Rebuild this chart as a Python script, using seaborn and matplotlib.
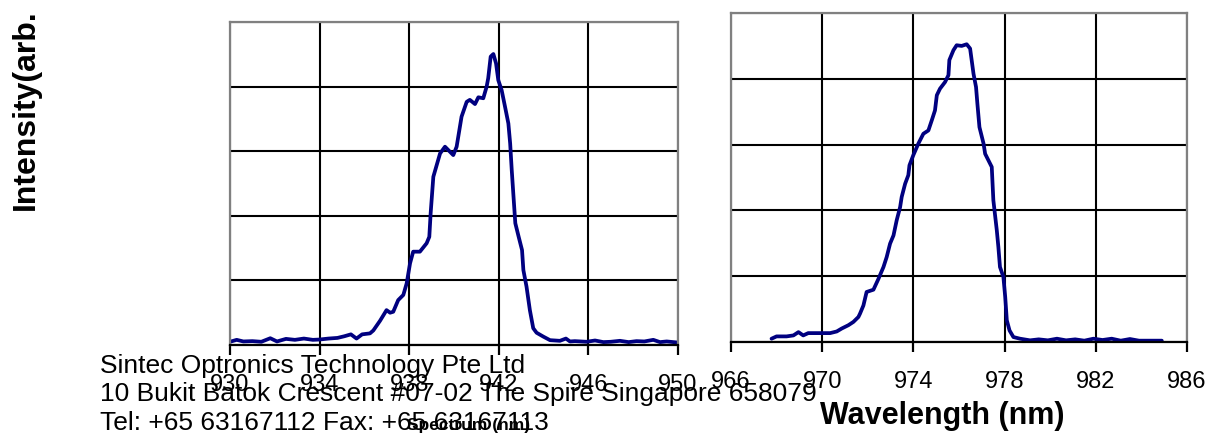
import matplotlib
matplotlib.use("Agg")
import matplotlib.pyplot as plt
import seaborn as sns

# spectrum 1 (left panel)
wl_left = [930.00, 930.3, 930.6, 931.0, 931.4, 931.8, 932.1, 932.5, 932.9, 933.3,
           933.7, 934.0, 934.4, 934.8, 935.1, 935.4, 935.65, 935.9, 936.25, 936.4,
           936.7, 936.99, 937.15, 937.29, 937.51, 937.74, 937.89, 938.04, 938.18, 938.48,
           938.78, 938.90, 938.96, 939.08, 939.38, 939.60, 939.97, 940.12, 940.34, 940.57,
           940.71, 940.94, 941.09, 941.31, 941.46, 941.53, 941.64, 941.76, 941.88, 941.98,
           942.13, 942.28, 942.43, 942.51, 942.58, 942.66, 942.74, 942.89, 943.04, 943.10,
           943.24, 943.39, 943.54, 943.69, 943.99, 944.29, 944.73, 945.0, 945.18, 945.4,
           945.92, 946.3, 946.67, 947.0, 947.41, 947.8, 948.15, 948.5, 948.90, 949.2,
           949.5, 949.94]
int_left = [0.010, 0.016, 0.011, 0.012, 0.010, 0.021, 0.011, 0.019, 0.016, 0.020,
            0.016, 0.017, 0.020, 0.022, 0.027, 0.033, 0.020, 0.033, 0.036, 0.045,
            0.075, 0.108, 0.100, 0.103, 0.139, 0.155, 0.191, 0.253, 0.289, 0.289,
            0.315, 0.335, 0.408, 0.521, 0.593, 0.614, 0.588, 0.614, 0.707, 0.753,
            0.759, 0.746, 0.767, 0.764, 0.800, 0.826, 0.893, 0.901, 0.872, 0.820,
            0.789, 0.738, 0.686, 0.624, 0.542, 0.459, 0.377, 0.335, 0.294, 0.232,
            0.181, 0.108, 0.052, 0.038, 0.026, 0.015, 0.013, 0.020, 0.011, 0.012,
            0.010, 0.014, 0.009, 0.010, 0.013, 0.009, 0.012, 0.011, 0.016, 0.009,
            0.011, 0.008]

# spectrum 2 (right panel)
wl_right = [967.78, 968.00, 968.44, 968.74, 968.96, 969.17, 969.39, 969.91, 970.35, 970.64,
            970.86, 971.15, 971.37, 971.59, 971.66, 971.81, 971.95, 972.25, 972.47, 972.69,
            972.83, 972.98, 973.13, 973.27, 973.42, 973.49, 973.64, 973.78, 973.83, 974.00,
            974.22, 974.44, 974.66, 974.81, 974.95, 975.03, 975.17, 975.39, 975.54, 975.58,
            975.76, 975.90, 976.12, 976.34, 976.49, 976.64, 976.75, 976.81, 976.90, 977.08,
            977.15, 977.44, 977.51, 977.66, 977.73, 977.80, 977.95, 978.03, 978.10, 978.22,
            978.39, 978.68, 979.12, 979.5, 979.9, 980.3, 980.7, 981.1, 981.5, 981.9,
            982.3, 982.7, 983.1, 983.5, 983.9, 984.90]
int_right = [0.010, 0.017, 0.017, 0.020, 0.030, 0.020, 0.027, 0.027, 0.027, 0.032,
             0.041, 0.051, 0.061, 0.076, 0.086, 0.111, 0.152, 0.159, 0.192, 0.228,
             0.258, 0.299, 0.324, 0.370, 0.410, 0.441, 0.481, 0.507, 0.537, 0.568,
             0.603, 0.633, 0.643, 0.674, 0.704, 0.750, 0.770, 0.790, 0.811, 0.857,
             0.887, 0.902, 0.900, 0.905, 0.892, 0.815, 0.775, 0.724, 0.653, 0.603,
             0.572, 0.532, 0.431, 0.340, 0.289, 0.228, 0.198, 0.137, 0.066, 0.035,
             0.015, 0.010, 0.005, 0.008, 0.005, 0.010, 0.005, 0.008, 0.004, 0.010,
             0.006, 0.010, 0.004, 0.009, 0.004, 0.004]

ticks_left = [930, 934, 938, 942, 946, 950]
ticks_right = [966, 970, 974, 978, 982, 986]
y_grid = [0, 0.2, 0.4, 0.6, 0.8, 1.0]

company_lines = ["Sintec Optronics Technology Pte Ltd",
                 "10 Bukit Batok Crescent #07-02 The Spire Singapore 658079",
                 "Tel: +65 63167112 Fax: +65 63167113"]

sns.set_style("white")
plt.rcParams["font.family"] = ["Liberation Sans", "DejaVu Sans"]
plt.rcParams["text.color"] = "black"
plt.rcParams["xtick.color"] = "black"
plt.rcParams["xtick.labelcolor"] = "black"

fig = plt.figure(figsize=(12.11, 4.38), dpi=100)
ax1 = fig.add_axes([0.1899, 0.2123, 0.3699, 0.7374])
ax2 = fig.add_axes([0.6036, 0.2192, 0.3765, 0.7511])


def style_panel(ax, xticks):
    ax.set_xlim(xticks[0], xticks[-1])
    ax.set_ylim(0, 1.0)
    ax.set_xticks(xticks)
    ax.set_yticks(y_grid)
    ax.grid(True, color="black", linewidth=1.5)
    ax.set_axisbelow(True)
    for side in ["left", "top", "right"]:
        ax.spines[side].set_color("#808080")
        ax.spines[side].set_linewidth(1.6)
        ax.spines[side].set_visible(True)
    ax.spines["bottom"].set_color("black")
    ax.spines["bottom"].set_linewidth(1.6)
    ax.tick_params(axis="y", left=False, labelleft=False)
    ax.tick_params(axis="x", bottom=True, direction="out", length=7, width=1.6,
                   color="black", labelcolor="black", labelsize=17, pad=14)
    ax.set_xlabel("")
    ax.set_ylabel("")


sns.lineplot(x=wl_left, y=int_left, ax=ax1, color="#000080", linewidth=2.7)
sns.lineplot(x=wl_right, y=int_right, ax=ax2, color="#000080", linewidth=2.7)
style_panel(ax1, ticks_left)
style_panel(ax2, ticks_right)

# axis titles and the address block, as they sit in the original page
fig.text(26 / 1211, 1 - 210 / 438, "Intensity(arb.", rotation=90, ha="center",
         va="bottom", fontsize=23, fontweight="bold", color="black")
fig.text(942 / 1211, 1 - 416 / 438, "Wavelength (nm)", ha="center", va="center",
         fontsize=22, fontweight="bold", color="black")

for line, base in zip(company_lines, [373, 401, 430]):
    fig.text(100 / 1211, 1 - base / 438, line, ha="left", va="baseline",
             fontsize=19, color="black")

fig.text(469 / 1211, 1 - 430 / 438, "Spectrum (nm)", ha="center", va="baseline",
         fontsize=12.5, fontweight="bold", color="black")

fig.savefig("out.png", dpi=100)
